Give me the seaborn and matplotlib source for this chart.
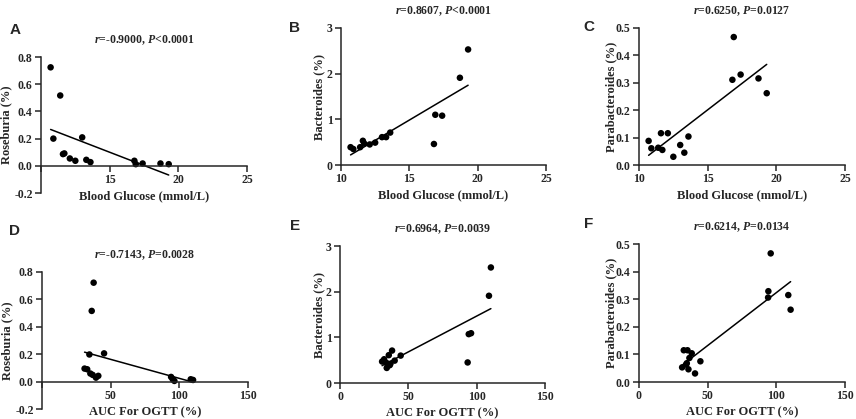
import matplotlib
matplotlib.use("Agg")
import matplotlib.pyplot as plt
import seaborn as sns
import numpy as np
import pandas as pd

# Blood glucose (mmol/L), same mice in A-C
glucose = [10.7, 10.9, 11.4, 11.6, 11.7, 12.1, 12.5, 13.0, 13.3, 13.6, 16.8, 16.9, 17.4, 18.7, 19.3]
roseburia_a = [0.724, 0.200, 0.517, 0.086, 0.091, 0.054, 0.037, 0.209, 0.044, 0.027, 0.037, 0.012, 0.017, 0.017, 0.012]
bacteroides_b = [0.39, 0.35, 0.39, 0.53, 0.47, 0.45, 0.49, 0.61, 0.61, 0.71, 0.46, 1.10, 1.08, 1.91, 2.53]
parab_c = [0.088, 0.061, 0.063, 0.116, 0.055, 0.116, 0.030, 0.073, 0.045, 0.104, 0.311, 0.467, 0.330, 0.316, 0.262]

# AUC for OGTT (%) panels D-F
auc_d = [31.0, 32.9, 34.5, 36.2, 37.6, 35.2, 36.9, 39.3, 41.0, 45.2, 94.0, 95.2, 96.4, 108.3, 110.0]
roseburia_d = [0.095, 0.090, 0.198, 0.516, 0.722, 0.059, 0.049, 0.029, 0.042, 0.206, 0.034, 0.017, 0.005, 0.017, 0.012]
auc_e = [30.8, 32.3, 34.0, 34.2, 35.7, 36.4, 36.9, 38.1, 40.0, 44.4, 93.4, 94.2, 95.9, 109.0, 110.4]
bacteroides_e = [0.47, 0.52, 0.44, 0.33, 0.61, 0.39, 0.42, 0.71, 0.49, 0.60, 0.45, 1.07, 1.09, 1.91, 2.53]
auc_f = [31.4, 32.6, 34.3, 35.3, 36.0, 36.7, 38.4, 40.8, 44.7, 94.0, 94.2, 95.9, 108.7, 110.4, 34.8]
parab_f = [0.053, 0.115, 0.063, 0.115, 0.046, 0.087, 0.104, 0.031, 0.075, 0.306, 0.329, 0.466, 0.315, 0.262, 0.068]

titles = [r"$r$=-0.9000, $P$<0.0001", r"$r$=0.8607, $P$<0.0001", r"$r$=0.6250, $P$=0.0127",
          r"$r$=-0.7143, $P$=0.0028", r"$r$=0.6964, $P$=0.0039", r"$r$=0.6214, $P$=0.0134"]
letters = ["A", "B", "C", "D", "E", "F"]
ylabels = ["Roseburia (%)", "Bacteroides (%)", "Parabacteroides (%)"] * 2
xlabels = ["Blood Glucose (mmol/L)"] * 3 + ["AUC For OGTT (%)"] * 3

sns.set_style("ticks")
plt.rcParams["font.family"] = ["Liberation Serif", "DejaVu Serif"]
plt.rcParams["font.weight"] = "bold"
plt.rcParams["mathtext.fontset"] = "custom"
plt.rcParams["mathtext.rm"] = "Liberation Serif:bold"
plt.rcParams["mathtext.it"] = "Liberation Serif:italic:bold"

W, H = 856, 419
fig = plt.figure(figsize=(W / 100, H / 100), dpi=100)

# pixel boxes: left, right, top, bottom
boxes = [(41, 247, 57, 193), (341, 546, 28, 165), (639, 845, 28, 165),
         (42, 248, 272, 409), (340, 545, 246, 383), (639, 845, 244, 382)]
letter_pos = [(15, 30), (295, 28), (589, 27), (15, 231), (295, 226), (589, 224)]
ylabel_x = [-0.138, -0.078, -0.107, -0.141, -0.073, -0.107]

xs = [glucose, glucose, glucose, auc_d, auc_e, auc_f]
ys = [roseburia_a, bacteroides_b, parab_c, roseburia_d, bacteroides_e, parab_f]
xlims = [(10, 25)] * 3 + [(0, 150)] * 3
xticks = [[10, 15, 20, 25]] * 3 + [[0, 50, 100, 150]] * 3
ylims = [(-0.2, 0.8), (0, 3), (0, 0.5), (-0.2, 0.8), (0, 3), (0, 0.5)]
yticks = [np.arange(-0.2, 0.81, 0.2), [0, 1, 2, 3], np.arange(0, 0.51, 0.1)] * 2
yfmt = ["{:.1f}", "{:.0f}", "{:.1f}"] * 2

for i in range(6):
    l, r, t, b = boxes[i]
    ax = fig.add_axes([l / W, 1 - b / H, (r - l) / W, (b - t) / H])
    df = pd.DataFrame({"x": xs[i], "y": ys[i]})
    sns.regplot(data=df, x="x", y="y", ax=ax, ci=None, truncate=True,
                scatter_kws=dict(s=22, color="black", edgecolor="none", alpha=1),
                line_kws=dict(color="black", lw=1.1))
    ax.set_xlim(*xlims[i])
    ax.set_ylim(*ylims[i])
    ax.set_xticks(xticks[i])
    xt = [str(v) for v in xticks[i]]
    if ylims[i][0] < 0:
        xt[0] = ""
        ax.spines["bottom"].set_position(("data", 0))
    ax.set_xticklabels(xt)
    ax.set_yticks(yticks[i])
    ax.set_yticklabels([yfmt[i].format(v + 0.0) for v in yticks[i]])
    for s in ["top", "right"]:
        ax.spines[s].set_visible(False)
    for s in ["left", "bottom"]:
        ax.spines[s].set_linewidth(1.1)
    ax.tick_params(length=4, width=1.1, labelsize=8.5, pad=2)
    for lab in ax.get_xticklabels() + ax.get_yticklabels():
        lab.set_fontweight("bold")
    ax.set_xlabel(xlabels[i], fontsize=9, fontweight="bold", labelpad=3)
    ax.set_ylabel(ylabels[i], fontsize=9, fontweight="bold")
    ax.yaxis.set_label_coords(ylabel_x[i], 0.5)
    ax.set_title(titles[i], fontsize=8.5, fontweight="bold", pad=10)
    lx, ly = letter_pos[i]
    fig.text(lx / W, 1 - ly / H, letters[i], fontsize=11, fontweight="bold",
             family="Liberation Sans", ha="center", va="center")

fig.savefig("out.png", dpi=100)
